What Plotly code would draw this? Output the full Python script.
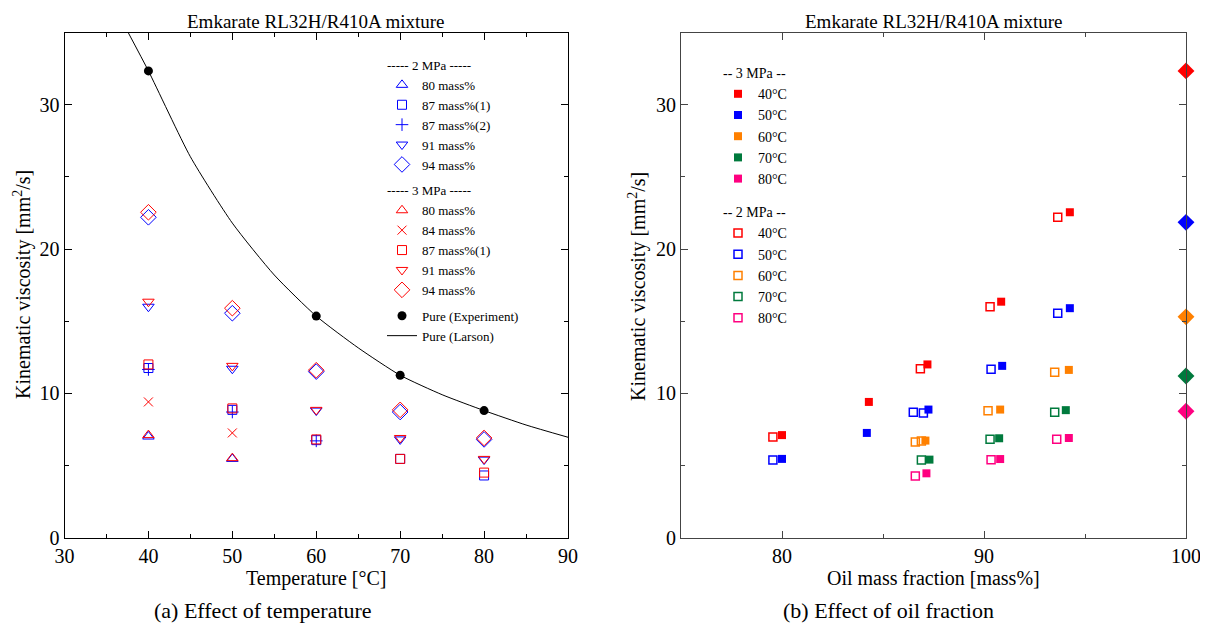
import plotly.graph_objects as go

FONT = "Liberation Serif"

# ---------------- (a) Effect of temperature ----------------
T2_80 = [40, 50]
v2_80 = [7.0, 5.45]
T2_87a = [40, 50, 60, 70, 80]
v2_87a = [11.75, 8.85, 6.75, 5.45, 4.3]
T2_87b = [40, 50, 60]
v2_87b = [11.65, 8.7, 6.7]
T2_91 = [40, 50, 60, 70, 80]
v2_91 = [16.0, 11.7, 8.8, 6.8, 5.4]
T2_94 = [40, 50, 60, 70, 80]
v2_94 = [22.2, 15.55, 11.5, 8.7, 6.8]

T3_80 = [40, 50]
v3_80 = [7.1, 5.5]
T3_84 = [40, 50]
v3_84 = [9.4, 7.25]
T3_87a = [40, 50, 60, 70, 80]
v3_87a = [12.0, 8.95, 6.8, 5.45, 4.5]
T3_91 = [40, 50, 60, 70, 80]
v3_91 = [16.35, 11.9, 8.85, 6.9, 5.45]
T3_94 = [40, 50, 60, 70, 80]
v3_94 = [22.55, 15.9, 11.6, 8.85, 6.9]

T_pure = [40, 60, 70, 80]
v_pure = [32.35, 15.35, 11.25, 8.8]
T_larson = [37.6, 40, 45, 50, 55, 60, 65, 70, 75, 80, 85, 90]
v_larson = [35.0, 32.35, 26.4, 21.8, 18.2, 15.35, 13.15, 11.25, 9.9, 8.8, 7.8, 6.95]

# ---------------- (b) Effect of oil fraction ----------------
temp_labels = ["40°C", "50°C", "60°C", "70°C", "80°C"]
temp_colors = ["#FF0000", "#0000FF", "#FF8000", "#007A3D", "#FF0080"]

# 3 MPa (filled)
w3_40 = [80.0, 84.3, 87.2, 90.85, 94.25]
k3_40 = [7.1, 9.4, 12.0, 16.35, 22.55]
w3_50 = [80.0, 84.2, 87.25, 90.9, 94.25]
k3_50 = [5.45, 7.25, 8.87, 11.9, 15.9]
w3_60 = [87.1, 90.8, 94.2]
k3_60 = [6.72, 8.87, 11.62]
w3_70 = [87.3, 90.75, 94.05]
k3_70 = [5.4, 6.88, 8.83]
w3_80 = [87.15, 90.8, 94.2]
k3_80 = [4.45, 5.44, 6.9]

# 2 MPa (open)
w2_40 = [79.55, 86.85, 90.3, 93.65]
k2_40 = [6.97, 11.7, 16.0, 22.2]
w2_50 = [79.55, 86.5, 87.0, 90.35, 93.65]
k2_50 = [5.37, 8.69, 8.64, 11.66, 15.54]
w2_60 = [86.6, 86.9, 90.2, 93.5]
k2_60 = [6.62, 6.69, 8.78, 11.45]
w2_70 = [86.9, 90.3, 93.5]
k2_70 = [5.37, 6.81, 8.69]
w2_80 = [86.6, 90.35, 93.6]
k2_80 = [4.27, 5.39, 6.81]

w_pure = [100, 100, 100, 100, 100]
k_pure = [32.35, 21.85, 15.3, 11.2, 8.75]

BLUE = "#0000FF"
RED = "#FF0000"

fig = go.Figure()

def left_trace(x, y, name, symbol, color, size, group, gtitle):
    fig.add_trace(go.Scatter(
        x=x, y=y, mode="markers", name=name,
        marker=dict(symbol=symbol, color=color, size=size, line=dict(width=1, color=color)),
        xaxis="x", yaxis="y", legend="legend",
        legendgroup=group, legendgrouptitle=dict(text=gtitle, font=dict(family=FONT, size=13, color="black")),
    ))

g2 = "----- 2 MPa -----"
g3 = "----- 3 MPa -----"
left_trace(T2_80, v2_80, "80 mass%", "triangle-up-open", BLUE, 10, "a2", g2)
left_trace(T2_87a, v2_87a, "87 mass%(1)", "square-open", BLUE, 9, "a2", g2)
left_trace(T2_87b, v2_87b, "87 mass%(2)", "cross-thin-open", BLUE, 9, "a2", g2)
left_trace(T2_91, v2_91, "91 mass%", "triangle-down-open", BLUE, 10, "a2", g2)
left_trace(T2_94, v2_94, "94 mass%", "diamond-open", BLUE, 12, "a2", g2)
left_trace(T3_80, v3_80, "80 mass%", "triangle-up-open", RED, 10, "a3", g3)
left_trace(T3_84, v3_84, "84 mass%", "x-thin-open", RED, 9, "a3", g3)
left_trace(T3_87a, v3_87a, "87 mass%(1)", "square-open", RED, 9, "a3", g3)
left_trace(T3_91, v3_91, "91 mass%", "triangle-down-open", RED, 10, "a3", g3)
left_trace(T3_94, v3_94, "94 mass%", "diamond-open", RED, 12, "a3", g3)

fig.add_trace(go.Scatter(
    x=T_pure, y=v_pure, mode="markers", name="Pure (Experiment)",
    marker=dict(symbol="circle", color="black", size=9),
    xaxis="x", yaxis="y", legend="legend", legendgroup="apure",
))
fig.add_trace(go.Scatter(
    x=T_larson, y=v_larson, mode="lines", name="Pure (Larson)",
    line=dict(color="black", width=1, shape="spline", smoothing=0.6),
    xaxis="x", yaxis="y", legend="legend", legendgroup="apure",
))

# right panel
w3 = [w3_40, w3_50, w3_60, w3_70, w3_80]
k3 = [k3_40, k3_50, k3_60, k3_70, k3_80]
w2 = [w2_40, w2_50, w2_60, w2_70, w2_80]
k2 = [k2_40, k2_50, k2_60, k2_70, k2_80]

for i in range(5):
    fig.add_trace(go.Scatter(
        x=w2[i], y=k2[i], mode="markers", name=temp_labels[i],
        marker=dict(symbol="square-open", color=temp_colors[i], size=8, line=dict(width=1.5, color=temp_colors[i])),
        xaxis="x2", yaxis="y2", legend="legend2", legendgroup="b2",
        legendgrouptitle=dict(text="-- 2 MPa --", font=dict(family=FONT, size=14, color="black")),
        legendrank=2000 + i,
    ))
for i in range(5):
    fig.add_trace(go.Scatter(
        x=w3[i], y=k3[i], mode="markers", name=temp_labels[i],
        marker=dict(symbol="square", color=temp_colors[i], size=8),
        xaxis="x2", yaxis="y2", legend="legend2", legendgroup="b3",
        legendgrouptitle=dict(text="-- 3 MPa --", font=dict(family=FONT, size=14, color="black")),
        legendrank=1000 + i,
    ))
fig.add_trace(go.Scatter(
    x=w_pure, y=k_pure, mode="markers", name="Pure",
    marker=dict(symbol="diamond", color=temp_colors, size=13),
    xaxis="x2", yaxis="y2", showlegend=False, cliponaxis=False,
))

# The page body has an 8 px margin, so the figure starts at (8, 8) in the window.
OFF = 8
W, H = 1200, 624
def px_x(p):
    return (p - OFF) / W
def px_y(p):
    return 1 - (p - OFF) / H

ydom = [px_y(537.5), px_y(32.7)]

axis_common = dict(
    showgrid=False, zeroline=False, showline=True, linewidth=1, automargin=False,
    ticks="inside", ticklen=7, tickwidth=1, mirror="ticks",
    tickfont=dict(family=FONT, size=20, color="black"),
)

fig.update_layout(
    width=W, height=H,
    margin=dict(l=0, r=0, t=0, b=0, autoexpand=False),
    paper_bgcolor="white", plot_bgcolor="white",
    font=dict(family=FONT, color="black"),
    xaxis=dict(domain=[px_x(64.5), px_x(568)], range=[30, 90], dtick=10, tick0=0, anchor="y",
               linecolor="black", tickcolor="black",
               minor=dict(dtick=5, ticks="inside", ticklen=4, tickcolor="black"), **axis_common),
    yaxis=dict(domain=ydom, range=[0, 35], dtick=10, tick0=0, anchor="x",
               linecolor="black", tickcolor="black",
               minor=dict(dtick=5, ticks="inside", ticklen=4, tickcolor="black"), **axis_common),
    xaxis2=dict(domain=[px_x(681), px_x(1186)], range=[75, 100], dtick=10, tick0=0, anchor="y2",
                linecolor="#444", tickcolor="#444",
                minor=dict(dtick=5, ticks="inside", ticklen=4, tickcolor="#444"), **axis_common),
    yaxis2=dict(domain=ydom, range=[0, 35], dtick=10, tick0=0, anchor="x2",
                linecolor="#444", tickcolor="#444",
                minor=dict(dtick=5, ticks="inside", ticklen=4, tickcolor="#444"), **axis_common),
    legend=dict(x=px_x(382), y=px_y(50), xanchor="left", yanchor="top",
                bgcolor="rgba(0,0,0,0)", font=dict(family=FONT, size=13, color="black"),
                tracegroupgap=6, traceorder="grouped", itemwidth=30),
    legend2=dict(x=px_x(718), y=px_y(57), xanchor="left", yanchor="top",
                 bgcolor="rgba(0,0,0,0)", font=dict(family=FONT, size=14, color="black"),
                 tracegroupgap=12, traceorder="grouped", itemwidth=30),
    showlegend=True,
)

ann = []
title_txt = "Emkarate RL32H/R410A mixture"
ann.append(dict(text=title_txt, x=0.5, xref="x domain", y=px_y(21.5), yref="paper",
                xanchor="center", yanchor="middle", showarrow=False, font=dict(family=FONT, size=19)))
ann.append(dict(text=title_txt, x=0.5, xref="x2 domain", y=px_y(21.5), yref="paper",
                xanchor="center", yanchor="middle", showarrow=False, font=dict(family=FONT, size=19)))
ytitle = "Kinematic viscosity [mm<sup>2</sup>/s]"
ann.append(dict(text=ytitle, x=px_x(22), xref="paper", y=px_y(285), yref="paper", textangle=-90,
                xanchor="center", yanchor="middle", showarrow=False, font=dict(family=FONT, size=20)))
ann.append(dict(text=ytitle, x=px_x(637), xref="paper", y=px_y(287), yref="paper", textangle=-90,
                xanchor="center", yanchor="middle", showarrow=False, font=dict(family=FONT, size=20)))
ann.append(dict(text="Temperature [°C]", x=0.5, xref="x domain", y=px_y(578), yref="paper",
                xanchor="center", yanchor="middle", showarrow=False, font=dict(family=FONT, size=20)))
ann.append(dict(text="Oil mass fraction [mass%]", x=0.5, xref="x2 domain", y=px_y(578), yref="paper",
                xanchor="center", yanchor="middle", showarrow=False, font=dict(family=FONT, size=20)))
ann.append(dict(text="(a) Effect of temperature", x=px_x(152), xref="paper", y=px_y(610), yref="paper",
                xanchor="left", yanchor="middle", showarrow=False, font=dict(family=FONT, size=22)))
ann.append(dict(text="(b) Effect of oil fraction", x=px_x(781), xref="paper", y=px_y(610), yref="paper",
                xanchor="left", yanchor="middle", showarrow=False, font=dict(family=FONT, size=22)))
fig.update_layout(annotations=ann)

fig.write_html("out.html")
